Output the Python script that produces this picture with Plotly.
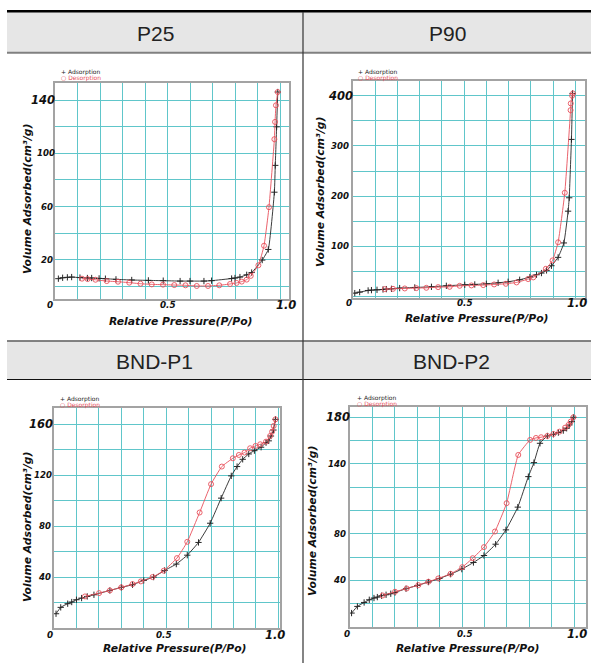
import plotly.graph_objects as go

W, H = 591, 663

# ---------------- data ----------------
headers_top = ["P25", "P90"]
headers_bottom = ["BND-P1", "BND-P2"]
x_title = "Relative Pressure(P/Po)"
y_title = "Volume Adsorbed(cm³/g)"
legend_ads = "Adsorption"
legend_des = "Desorption"

p25_ads_x = [0.015, 0.034, 0.055, 0.074, 0.111, 0.144, 0.163, 0.196, 0.224, 0.271, 0.341, 0.415, 0.481,
             0.556, 0.6, 0.662, 0.696, 0.785, 0.8, 0.822, 0.852, 0.874, 0.921, 0.948, 0.975, 0.979, 0.985, 0.99]
p25_ads_y = [5.7, 6.4, 6.7, 6.9, 6.5, 6.2, 6.2, 5.9, 5.7, 5.2, 4.7, 4.4, 4.2,
             3.9, 3.9, 3.9, 4.2, 5.8, 6.2, 6.9, 8.6, 10.3, 19.7, 27.7, 70.8, 91, 120, 146.2]
p25_des_x = [0.12, 0.145, 0.18, 0.23, 0.28, 0.33, 0.38, 0.43, 0.48, 0.53, 0.58, 0.63, 0.68, 0.73, 0.778,
             0.807, 0.83, 0.852, 0.87, 0.904, 0.929, 0.951, 0.975, 0.978, 0.982, 0.99]
p25_des_y = [5.7, 5.4, 4.9, 3.9, 3.4, 2.7, 1.9, 1.4, 1.2, 0.9, 0.7, 0.2, 0.2, 0.7, 1.7,
             2.5, 3.5, 5.0, 7.8, 15.8, 30.5, 59.5, 110.7, 123.7, 136.2, 146.2]

p90_ads_x = [0.008, 0.03, 0.068, 0.083, 0.108, 0.135, 0.15, 0.173, 0.21, 0.278, 0.353, 0.42, 0.503, 0.548,
             0.6, 0.653, 0.698, 0.75, 0.796, 0.826, 0.848, 0.871, 0.893, 0.923, 0.949, 0.968, 0.973, 0.983, 0.988]
p90_ads_y = [6.7, 8.7, 12, 12.7, 13.3, 14, 14.7, 15.3, 16.7, 18, 19.3, 21.3, 23.3, 24,
             25.3, 27.3, 29.3, 33.3, 38.7, 43.3, 46.7, 52, 61.3, 78, 106.7, 170, 196.7, 313, 404.7]
p90_des_x = [0.143, 0.18, 0.233, 0.285, 0.33, 0.383, 0.435, 0.48, 0.533, 0.586, 0.635, 0.688, 0.736,
             0.788, 0.811, 0.868, 0.898, 0.923, 0.953, 0.979, 0.98, 0.986, 0.99]
p90_des_y = [14.7, 15.3, 16, 16.7, 17.3, 18.7, 19.3, 21.3, 22, 22.7, 24, 25.3, 28,
             34.7, 38, 55.3, 72, 108, 206.7, 371.3, 384.7, 400, 404.7]

p1_ads_x = [0.009, 0.03, 0.061, 0.079, 0.1, 0.123, 0.148, 0.178, 0.249, 0.3, 0.35, 0.4, 0.444, 0.493,
            0.545, 0.594, 0.644, 0.696, 0.745, 0.79, 0.816, 0.841, 0.868, 0.893, 0.923, 0.945, 0.957,
            0.967, 0.978, 0.987]
p1_ads_y = [11.2, 16.2, 19.1, 20.4, 22.2, 23.5, 24.8, 26.1, 29.5, 31.9, 34, 37.4, 40, 45.2,
            50.2, 57.2, 67.2, 82.3, 102, 119.5, 126.8, 132.5, 136.7, 139.3, 142, 145.6, 147,
            150.8, 155.5, 163.9]
p1_des_x = [0.138, 0.201, 0.249, 0.3, 0.35, 0.387, 0.439, 0.489, 0.548, 0.594, 0.649, 0.7, 0.748,
            0.797, 0.824, 0.849, 0.874, 0.898, 0.919, 0.945, 0.963, 0.972, 0.979, 0.987]
p1_des_y = [24.8, 27.4, 29.5, 31.9, 34.5, 36.6, 40, 45, 54.9, 67.7, 90.7, 113, 126.8,
            133.3, 135.9, 137.8, 141.2, 143, 144.3, 146.4, 150.8, 154.2, 158.7, 163.9]

p2_ads_x = [0.007, 0.033, 0.063, 0.086, 0.107, 0.122, 0.141, 0.161, 0.182, 0.201, 0.25, 0.301, 0.35,
            0.399, 0.449, 0.499, 0.551, 0.598, 0.65, 0.696, 0.749, 0.796, 0.821, 0.848, 0.881, 0.908,
            0.93, 0.952, 0.967, 0.979, 0.99, 0.997]
p2_ads_y = [12, 17.7, 21.1, 23.4, 24.9, 25.7, 26.9, 27.7, 28.6, 29.7, 32.9, 35.7, 38.6,
            41.7, 45.4, 49.7, 55.4, 61.4, 71.1, 83.4, 102.9, 129.1, 141.1, 157.7, 164, 165.4,
            166.9, 168.6, 170.6, 173.4, 176.3, 180]
p2_des_x = [0.146, 0.201, 0.253, 0.305, 0.35, 0.394, 0.449, 0.501, 0.548, 0.598, 0.647, 0.699, 0.751,
            0.804, 0.83, 0.853, 0.881, 0.908, 0.935, 0.96, 0.975, 0.985, 0.997]
p2_des_y = [27.1, 30.3, 33.1, 36, 38.9, 41.7, 45.7, 51.4, 59.1, 68.6, 82, 106.3, 147.7,
            160.6, 162.3, 162.9, 164, 165.7, 167.7, 171.1, 173.4, 176.3, 180]

xtick_vals = [0, 0.5, 1.0]
xtick_text = ["0", "0.5", "1.0"]
p25_ytick_vals = [140, 100, 60, 20]
p90_ytick_vals = [400, 300, 200, 100]
p1_ytick_vals = [160, 120, 80, 40]
p2_ytick_vals = [180, 140, 80, 40]

# ---------------- layout helpers ----------------
def PX(x):
    return x / W

def PY(y):
    return 1 - y / H

BLACK = "#262626"
RED = "#e8505b"
GRID = "rgb(96,198,202)"
FRAME = "#a3a3a3"
TICKFONT = "DejaVu Sans"

panels = [
    dict(ax=(p25_ads_x, p25_ads_y), de=(p25_des_x, p25_des_y), yt=p25_ytick_vals,
         box=(55, 289, 83, 299), xr=[0, 1.04], yr=[-9.6, 153], dy=20,
         xlab_shift=[-5, 0, 6], xlab_dy=-6, ylab_shift=[2, 2, 0, 0],
         xt_c=(181, 321), yt_c=(27, 199), leg=(58.5, 72.3)),
    dict(ax=(p90_ads_x, p90_ads_y), de=(p90_des_x, p90_des_y), yt=p90_ytick_vals,
         box=(353, 585, 81, 298), xr=[0, 1.044], yr=[-3, 429.4], dy=50,
         xlab_shift=[-4, 1, 0], xlab_dy=-5, ylab_shift=[2, -2, -2, -2],
         xt_c=(477, 318), yt_c=(320, 192), leg=(356.3, 72.3)),
    dict(ax=(p1_ads_x, p1_ads_y), de=(p1_des_x, p1_des_y), yt=p1_ytick_vals,
         box=(54, 279.5, 408, 628), xr=[0, 1.005], yr=[0, 172.8], dy=20,
         xlab_shift=[-4, -2, -3], xlab_dy=-7, ylab_shift=[1, 0, -1, -1],
         xt_c=(175, 648), yt_c=(27, 527), leg=(58, 399.3)),
    dict(ax=(p2_ads_x, p2_ads_y), de=(p2_des_x, p2_des_y), yt=p2_ytick_vals,
         box=(350, 585.7, 406.7, 626.7), xr=[0, 1.052], yr=[0.3, 189.1], dy=20,
         xlab_shift=[-3, 3, 0], xlab_dy=-7, ylab_shift=[2, -2, -2, -2],
         xt_c=(468, 648), yt_c=(312, 521), leg=(355.3, 398.3)),
]
# panels whose "1.0" label sits at the right page edge
edge_right = [False, True, False, True]

fig = go.Figure()
annotations = []
shapes = []
layout_axes = {}

for i, p in enumerate(panels, start=1):
    sx = "" if i == 1 else str(i)
    xa, ya = "x" + sx, "y" + sx
    x0, x1, y0, y1 = p["box"]
    layout_axes["xaxis" + sx] = dict(
        domain=[PX(x0), PX(x1)], anchor=ya, range=p["xr"], tick0=0, dtick=0.1,
        showgrid=True, gridcolor=GRID, gridwidth=1.3, zeroline=False,
        showline=True, mirror=True, linecolor=FRAME, linewidth=1.5,
        showticklabels=False, ticks="", fixedrange=True)
    layout_axes["yaxis" + sx] = dict(
        domain=[PY(y1), PY(y0)], anchor=xa, range=p["yr"], tick0=0, dtick=p["dy"],
        showgrid=True, gridcolor=GRID, gridwidth=1.3, zeroline=False,
        showline=True, mirror=True, linecolor=FRAME, linewidth=1.5,
        showticklabels=False, ticks="", fixedrange=True)

    fig.add_trace(go.Scatter(
        x=p["ax"][0], y=p["ax"][1], xaxis=xa, yaxis=ya, mode="lines+markers",
        line=dict(color=BLACK, width=0.9, shape="spline", smoothing=0.4),
        marker=dict(symbol="cross-thin-open", size=4.5, line=dict(color=BLACK, width=1)),
        name=legend_ads, showlegend=False))
    fig.add_trace(go.Scatter(
        x=p["de"][0], y=p["de"][1], xaxis=xa, yaxis=ya, mode="lines+markers",
        line=dict(color=RED, width=0.9, shape="spline", smoothing=0.4),
        marker=dict(symbol="circle-open", size=5, line=dict(color=RED, width=0.9)),
        name=legend_des, showlegend=False))

    # x tick labels
    for k, (v, t) in enumerate(zip(xtick_vals, xtick_text)):
        big = (k == 2)
        fnt = dict(family=TICKFONT, size=11.5 if big else 8.8, color="#111",
                   weight="bold", style="italic")
        if big and edge_right[i - 1]:
            annotations.append(dict(
                x=PX(589), xref="paper", y=0, yref=ya + " domain", text=t, showarrow=False,
                xanchor="right", yanchor="middle", yshift=p["xlab_dy"], font=fnt))
        else:
            annotations.append(dict(
                x=v, xref=xa, y=0, yref=ya + " domain", text=t, showarrow=False,
                xanchor="center", yanchor="middle", xshift=p["xlab_shift"][k],
                yshift=p["xlab_dy"], font=fnt))
    # y tick labels
    for k, v in enumerate(p["yt"]):
        big = (k == 0)
        annotations.append(dict(
            x=0, xref=xa + " domain", y=v, yref=ya, text=str(v), showarrow=False,
            xanchor="right", yanchor="middle", xshift=p["ylab_shift"][k],
            font=dict(family=TICKFONT, size=11.5 if big else 8.6, color="#111",
                      weight="bold", style="italic")))
    # axis titles
    annotations.append(dict(
        x=PX(p["xt_c"][0]), y=PY(p["xt_c"][1]), xref="paper", yref="paper", text=x_title,
        showarrow=False, xanchor="center", yanchor="middle",
        font=dict(family=TICKFONT, size=10.8, color="#111", weight="bold", style="italic")))
    annotations.append(dict(
        x=PX(p["yt_c"][0]), y=PY(p["yt_c"][1]), xref="paper", yref="paper", text=y_title,
        showarrow=False, xanchor="center", yanchor="middle", textangle=-90,
        font=dict(family=TICKFONT, size=10.8, color="#111", weight="bold", style="italic")))
    # legend
    lx, ly = p["leg"]
    annotations.append(dict(
        x=PX(lx), y=PY(ly), xref="paper", yref="paper", text="+ " + legend_ads,
        showarrow=False, xanchor="left", yanchor="middle",
        font=dict(family="DejaVu Sans", size=6, color=BLACK)))
    annotations.append(dict(
        x=PX(lx), y=PY(ly + 6), xref="paper", yref="paper", text="○ " + legend_des,
        showarrow=False, xanchor="left", yanchor="middle",
        font=dict(family="DejaVu Sans", size=6, color=RED)))

# ---------------- table ----------------
TL, TR = 7, 591
DIV = 303
GRAY = "#e6e6e6"
shapes.append(dict(type="rect", xref="paper", yref="paper", x0=PX(TL), x1=PX(TR),
                   y0=PY(52), y1=PY(12), fillcolor=GRAY, line=dict(width=0), layer="below"))
shapes.append(dict(type="rect", xref="paper", yref="paper", x0=PX(TL), x1=PX(TR),
                   y0=PY(379), y1=PY(341.5), fillcolor=GRAY, line=dict(width=0), layer="below"))
shapes.append(dict(type="line", xref="paper", yref="paper", x0=PX(TL), x1=PX(TR),
                   y0=PY(11.2), y1=PY(11.2), line=dict(color="#000", width=2.5)))
shapes.append(dict(type="line", xref="paper", yref="paper", x0=PX(TL), x1=PX(TR),
                   y0=PY(52.8), y1=PY(52.8), line=dict(color="#808080", width=2)))
shapes.append(dict(type="line", xref="paper", yref="paper", x0=PX(TL), x1=PX(TR),
                   y0=PY(341), y1=PY(341), line=dict(color="#5a5a5a", width=1.5)))
shapes.append(dict(type="line", xref="paper", yref="paper", x0=PX(TL), x1=PX(TR),
                   y0=PY(379.5), y1=PY(379.5), line=dict(color="#111", width=1.2)))
shapes.append(dict(type="line", xref="paper", yref="paper", x0=PX(DIV), x1=PX(DIV),
                   y0=PY(12), y1=PY(663), line=dict(color="#333", width=1.2)))

hdr_font = dict(family="Liberation Sans", size=21, color="#222")
for txt, cx in zip(headers_top, [155, 447]):
    annotations.append(dict(x=PX(cx), y=PY(33), xref="paper", yref="paper", text=txt,
                            showarrow=False, xanchor="center", yanchor="middle", font=hdr_font))
for txt, cx in zip(headers_bottom, [154, 451]):
    annotations.append(dict(x=PX(cx), y=PY(362), xref="paper", yref="paper", text=txt,
                            showarrow=False, xanchor="center", yanchor="middle", font=hdr_font))

fig.update_layout(
    width=W, height=H, margin=dict(l=0, r=0, t=0, b=0),
    paper_bgcolor="white", plot_bgcolor="white",
    showlegend=False, annotations=annotations, shapes=shapes,
    **layout_axes)

fig.write_html("out.html", config={"displayModeBar": False},
               post_script="document.body.style.margin='0';document.body.style.overflow='hidden';")
